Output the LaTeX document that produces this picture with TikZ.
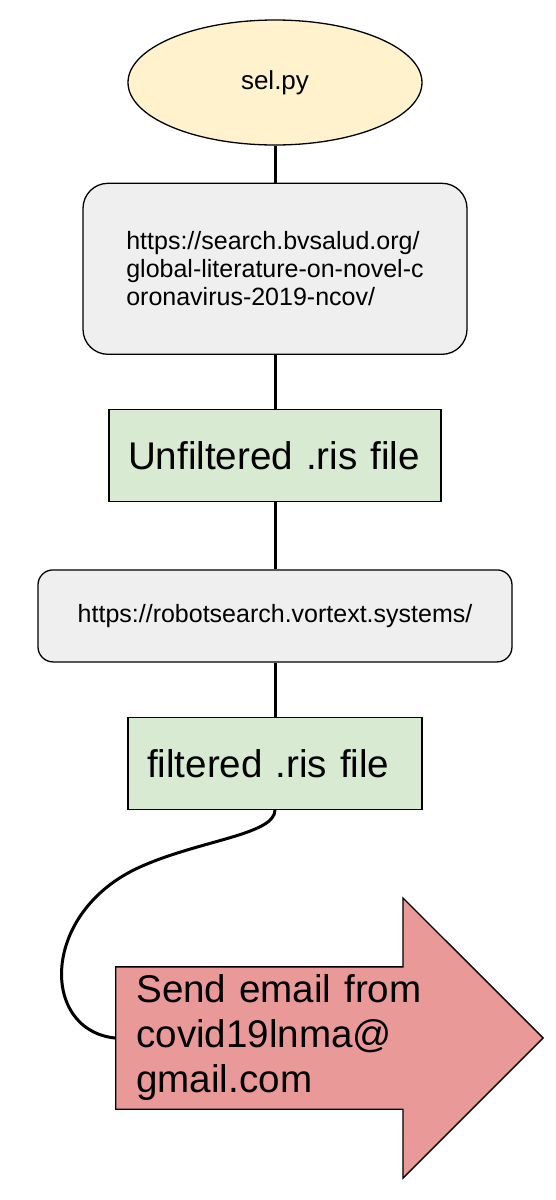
\documentclass[tikz,border=0pt]{standalone}
\usepackage{fontspec}
\setmainfont{Liberation Sans}
\usetikzlibrary{positioning, shapes.geometric, shapes.arrows}
\definecolor{selyellow}{HTML}{FFF2CC}
\definecolor{sitegray}{HTML}{EFEFEF}
\definecolor{risgreen}{HTML}{D9EAD3}
\definecolor{mailred}{HTML}{EA9999}
\tikzset{
  box/.style={draw, line width=1.3pt, inner sep=0pt},
  script/.style={box, ellipse, fill=selyellow, minimum width=294pt, minimum height=125pt,
    font=\fontsize{26}{30}\selectfont},
  site/.style={box, fill=sitegray, align=left, font=\fontsize{25}{28}\selectfont},
  risfile/.style={box, fill=risgreen, minimum height=92pt, inner xsep=19pt, align=left,
    font=\fontsize{38.6}{45}\selectfont},
  mail/.style={draw, line width=1.3pt, fill=mailred, single arrow, single arrow head extend=69pt,
    inner xsep=20pt, inner ysep=7.5pt, text width=315pt, align=left,
    font=\fontsize{38.6}{45}\selectfont},
  link/.style={line width=3pt},
}

\begin{document}
\begin{tikzpicture}[x=1pt, y=-1pt]
\useasboundingbox (0,0) rectangle (556,1200);

% -- pipeline, top to bottom
\node[script] (sel) at (275,82.5) {sel.py};

\node[site, below=37pt of sel, minimum width=384pt, minimum height=171pt, rounded corners=25pt] (bvs)
  {https://search.bvsalud.org/\\global-literature-on-novel-c\\oronavirus-2019-ncov/};

\node[risfile, below=54pt of bvs, text width=294pt] (unfilt) {Unfiltered .ris file};

\node[site, below=67pt of unfilt, minimum width=474pt, minimum height=92pt, rounded corners=15pt] (robot)
  {https://robotsearch.vortext.systems/};

\node[risfile, below=54pt of robot, text width=256pt] (filt) {filtered .ris file};

\node[mail, anchor=tail] (email) at (115,1038)
  {Send email from\\covid19lnma@\\gmail.com};

% -- links
\draw[link] (sel) -- (bvs);
\draw[link] (bvs) -- (unfilt);
\draw[link] (unfilt) -- (robot);
\draw[link] (robot) -- (filt);
\draw[link] (filt.south) .. controls +(0,25) and (200,840) .. (140,867)
  .. controls (40,912) and (40,1030) .. (email.tail);

\end{tikzpicture}
\end{document}
